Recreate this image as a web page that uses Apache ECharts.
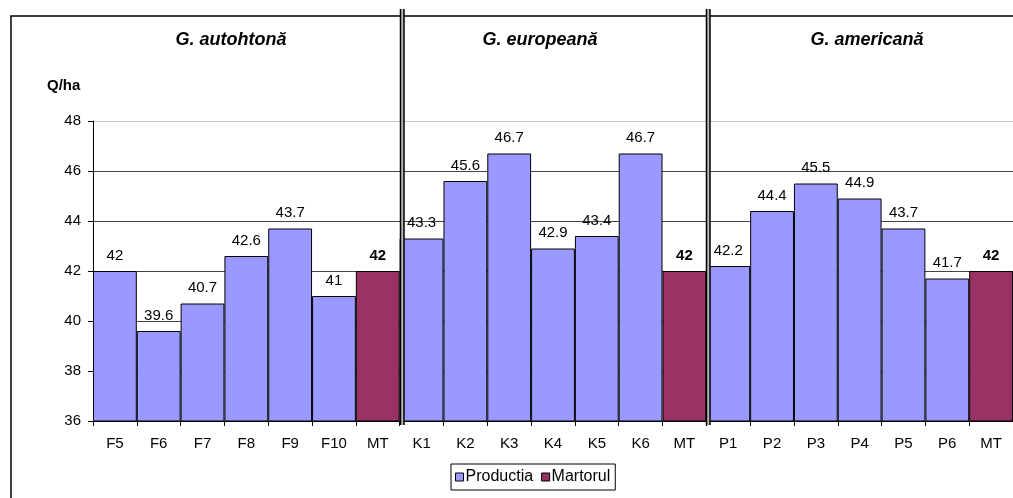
<!DOCTYPE html>
<html>
<head>
<meta charset="utf-8">
<script src="https://cdn.jsdelivr.net/npm/echarts@6/dist/echarts.min.js"></script>
<style>
  html, body { margin: 0; padding: 0; background: #fff; }
  #chart { width: 1013px; height: 498px; }
</style>
</head>
<body>
<div id="chart"></div>
<script>
// Production per variant (Q/ha), three groups of grafts, each closed by the control (MT)
const categories = ['F5', 'F6', 'F7', 'F8', 'F9', 'F10', 'MT',
                    'K1', 'K2', 'K3', 'K4', 'K5', 'K6', 'MT',
                    'P1', 'P2', 'P3', 'P4', 'P5', 'P6', 'MT'];
const productia = [42, 39.6, 40.7, 42.6, 43.7, 41, null,
                   43.3, 45.6, 46.7, 42.9, 43.4, 46.7, null,
                   42.2, 44.4, 45.5, 44.9, 43.7, 41.7, null];
const martorul = [null, null, null, null, null, null, 42,
                  null, null, null, null, null, null, 42,
                  null, null, null, null, null, null, 42];
const groupTitles = ['G. autohtonă', 'G. europeană', 'G. americană'];
const seriesNames = ['Productia', 'Martorul'];
const yUnit = 'Q/ha';
const yMin = 36, yMax = 48, yStep = 2;

const FONT = '"Liberation Sans", Arial, sans-serif';
const chart = echarts.init(document.getElementById('chart'), null, { renderer: 'canvas' });

const valueLabel = (bold) => ({
  show: true,
  position: 'top',
  distance: 8,
  color: '#000',
  fontFamily: FONT,
  fontSize: 15,
  fontWeight: bold ? 'bold' : 'normal',
  formatter: p => (p.value == null ? '' : String(p.value))
});

const option = {
  backgroundColor: '#fff',
  animation: false,
  textStyle: { fontFamily: FONT },
  grid: { left: 93, top: 121, width: 921, height: 300, containLabel: false },
  legend: {
    left: 451,
    top: 464,
    data: seriesNames,
    itemWidth: 8,
    itemHeight: 8,
    itemGap: 8,
    padding: [5, 5, 5, 4],
    borderColor: '#000',
    borderWidth: 1,
    borderRadius: 0,
    icon: 'rect',
    itemStyle: { borderColor: '#000', borderWidth: 1 },
    textStyle: { color: '#000', fontSize: 16, fontFamily: FONT, padding: [0, 0, 0, -3] }
  },
  xAxis: {
    type: 'category',
    data: categories,
    boundaryGap: true,
    axisLine: { show: true, lineStyle: { color: '#000', width: 1 } },
    axisTick: { show: true, alignWithLabel: false, length: 5, lineStyle: { color: '#000' } },
    axisLabel: { color: '#000', fontSize: 15, fontFamily: FONT, margin: 15, interval: 0 },
    splitLine: { show: false }
  },
  yAxis: {
    type: 'value',
    min: yMin,
    max: yMax,
    interval: yStep,
    axisLine: { show: true, lineStyle: { color: '#000', width: 1 } },
    axisTick: { show: true, length: 5, lineStyle: { color: '#000' } },
    axisLabel: { color: '#000', fontSize: 15, fontFamily: FONT, margin: 12 },
    splitLine: {
      show: true,
      lineStyle: {
        color: ['#000', '#444', '#444', '#444', '#444', '#444', '#c8c8c8'],
        width: 1
      }
    }
  },
  series: [
    {
      name: seriesNames[0],
      type: 'bar',
      data: productia,
      barCategoryGap: '0%',
      barGap: '-100%',
      itemStyle: { color: '#9999FF', borderColor: '#000', borderWidth: 1 },
      label: valueLabel(false),
      z: 3
    },
    {
      name: seriesNames[1],
      type: 'bar',
      data: martorul,
      barCategoryGap: '0%',
      barGap: '-100%',
      itemStyle: { color: '#993366', borderColor: '#000', borderWidth: 1 },
      label: valueLabel(true),
      z: 3
    }
  ]
};

chart.setOption(option);

// Frame, group separators and group headings drawn on top of the grid
function boundaryX(i) {
  const a = chart.convertToPixel({ xAxisIndex: 0 }, i);
  const b = chart.convertToPixel({ xAxisIndex: 0 }, i + 1);
  return (a + b) / 2;
}

const sepTop = 9, sepBottom = 425;
const separators = [];
[6, 13].forEach(idx => {
  const x = Math.round(boundaryX(idx));
  separators.push(
    { type: 'rect', shape: { x: x, y: sepTop, width: 4, height: sepBottom - sepTop },
      style: { fill: '#b8b8b8' }, z: 20 },
    { type: 'line', shape: { x1: x + 0.5, y1: sepTop, x2: x + 0.5, y2: sepBottom },
      style: { stroke: '#000', lineWidth: 1.5 }, z: 21 },
    { type: 'line', shape: { x1: x + 4, y1: sepTop, x2: x + 4, y2: sepBottom },
      style: { stroke: '#000', lineWidth: 1.5 }, z: 21 }
  );
});

const titleX = [231, 540, 867];
const titles = groupTitles.map((t, i) => ({
  type: 'text',
  x: titleX[i],
  y: 40,
  style: {
    text: t,
    fill: '#000',
    font: 'italic bold 18px ' + FONT,
    textAlign: 'center',
    textVerticalAlign: 'middle'
  },
  z: 22
}));

chart.setOption({
  graphic: [
    { type: 'rect', shape: { x: 11, y: 16, width: 1100, height: 600 },
      style: { fill: null, stroke: '#000', lineWidth: 1.5 }, z: 19, silent: true },
    { type: 'text', x: 47, y: 86,
      style: { text: yUnit, fill: '#000', font: 'bold 15px ' + FONT,
               textAlign: 'left', textVerticalAlign: 'middle' }, z: 22 },
    ...separators,
    ...titles
  ]
});
</script>
</body>
</html>
